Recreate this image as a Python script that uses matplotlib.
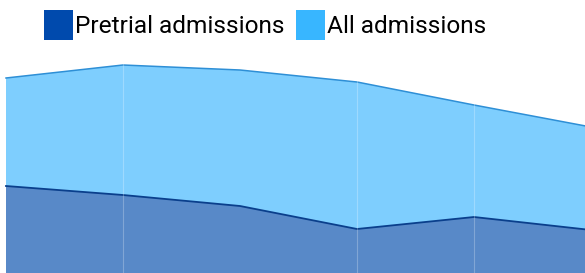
import matplotlib

matplotlib.use("Agg")
import matplotlib.pyplot as plt
from matplotlib.patches import Patch

# baseline assumed at the bottom edge
periods = [0, 1, 2, 3, 4, 5]
pretrial = [87, 78, 67, 44, 56, 43]
all_adm = [195, 208, 203, 191, 168, 146]
seams = [1, 3, 4]

dark = "#004AAD"
light = "#38B6FF"

plt.rcParams["font.family"] = ["Roboto", "DejaVu Sans"]

fig = plt.figure(figsize=(5.85, 2.73), dpi=100)
ax = fig.add_axes([0, 0, 1, 1])

ax.fill_between(periods, pretrial, all_adm, color="#7ECEFE", lw=0)
ax.fill_between(periods, 0, pretrial, color="#5889C8", lw=0)
ax.plot(periods, all_adm, color="#2E8FD6", lw=1.1)
ax.plot(periods, pretrial, color="#0A3F8C", lw=1.3)
for s in seams:
    ax.axvline(s, color="white", lw=0.8, alpha=0.25)

ax.set_xlim(-6 / 117, 579 / 117)
ax.set_ylim(0, 273)
ax.axis("off")

handles = [Patch(facecolor=dark, edgecolor="none", label="Pretrial admissions"),
           Patch(facecolor=light, edgecolor="none", label="All admissions")]
fig.legend(handles=handles, loc="center", bbox_to_anchor=(265 / 585, 1 - 25 / 273),
           ncol=2, frameon=False, fontsize=17.6, handlelength=1.2,
           handleheight=1.5, handletextpad=0.08, columnspacing=0.45,
           borderpad=0, borderaxespad=0)

fig.savefig("out.png", dpi=100)
